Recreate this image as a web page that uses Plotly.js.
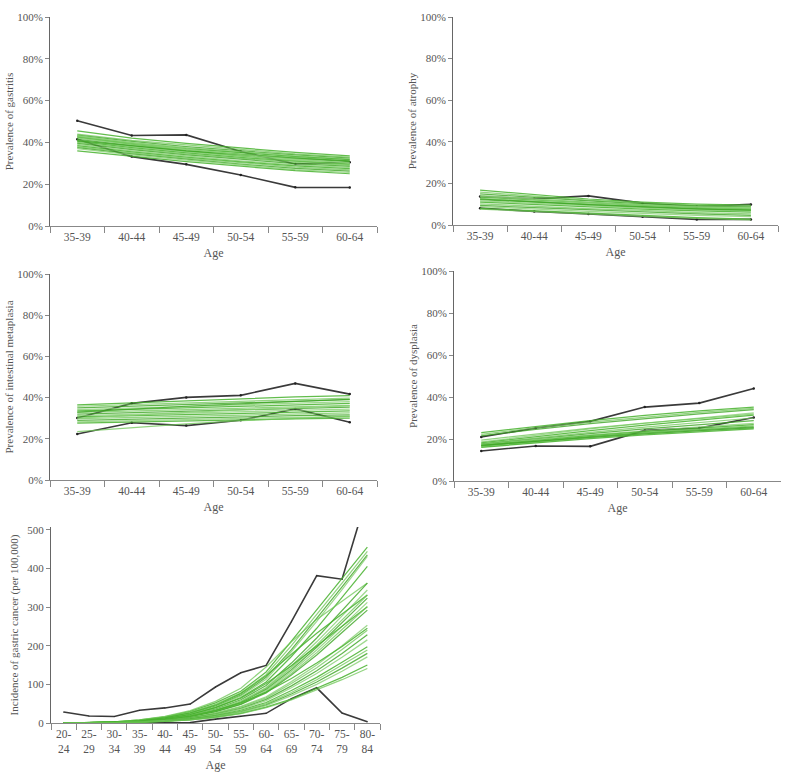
<!DOCTYPE html>
<html>
<head>
<meta charset="utf-8">
<script src="https://cdn.plot.ly/plotly-3.0.1.min.js"></script>
<style>html,body{margin:0;padding:0;background:#fff}#chart{width:800px;height:781px}</style>
</head>
<body>
<div id="chart"></div>
<script>
// ---------- DATA ----------
const agesPrev = ['35-39','40-44','45-49','50-54','55-59','60-64'];
const agesInc = ['20-24','25-29','30-34','35-39','40-44','45-49','50-54','55-59','60-64','65-69','70-74','75-79','80-84'];
const pctTicks = [0, 20, 40, 60, 80, 100];
const incTicks = [0, 100, 200, 300, 400, 500];

// Observed bounds (black lines)
const gastritisUpper = [50.4, 43.3, 43.6, 35.6, 29.7, 30.5];
const gastritisLower = [41.5, 33.2, 29.5, 24.4, 18.5, 18.4];
const atrophyUpper = [13.7, 12.6, 14.0, 10.5, 8.9, 9.9];
const atrophyLower = [8.1, 6.5, 5.3, 4.0, 2.7, 2.7];
const imUpper = [30.1, 37.2, 40.1, 41.1, 46.9, 41.7];
const imLower = [22.3, 27.8, 26.4, 29.0, 34.5, 28.0];
const dysplasiaUpper = [21.0, 25.2, 28.4, 35.2, 37.1, 44.0];
const dysplasiaLower = [14.3, 16.7, 16.5, 24.1, 25.2, 30.2];
const cancerUpper = [28.5, 18, 17, 33, 39, 49, 93, 130, 149, 262, 381, 372, 590];
const cancerLower = [0, 0, 0, 0, 0, 1, 10, 17, 25, 63, 91, 26, 3];

// Model runs (green lines)
const gastritisModel = [
  [45.5,42.0,39.5,37.2,35.2,33.5],
  [44.0,41.0,38.8,36.5,34.5,33.0],
  [43.5,40.5,38.0,36.0,34.0,32.5],
  [43.0,40.0,37.5,35.5,33.6,32.0],
  [42.5,39.5,37.0,35.0,33.2,31.8],
  [42.0,39.0,36.6,34.5,32.8,31.2],
  [41.5,38.5,36.0,34.0,32.2,30.8],
  [41.0,38.0,35.5,33.4,31.6,30.2],
  [40.5,37.5,35.0,32.8,31.0,29.6],
  [40.0,37.0,34.5,32.3,30.4,29.0],
  [39.5,36.5,34.0,31.8,29.9,28.5],
  [39.0,36.0,33.5,31.2,29.3,28.0],
  [38.5,35.5,33.0,30.7,28.8,27.4],
  [38.0,35.0,32.5,30.2,28.2,26.8],
  [37.5,34.5,32.0,29.6,27.6,26.2],
  [37.0,34.0,31.5,29.2,27.0,25.6],
  [36.0,33.3,30.8,28.6,26.5,25.0],
  [42.8,39.2,36.0,33.4,31.2,29.4],
  [40.8,38.3,36.0,34.2,32.5,31.2],
  [43.2,39.8,36.8,34.2,32.0,30.2]
];
const atrophyModel = [
  [16.8,14.5,12.5,11.0,10.0,9.5],
  [15.8,13.8,12.0,10.6,9.6,9.0],
  [15.0,13.2,11.6,10.2,9.2,8.6],
  [14.2,12.6,11.0,9.8,8.8,8.2],
  [13.4,12.0,10.6,9.4,8.4,7.8],
  [12.8,11.4,10.0,8.9,8.0,7.4],
  [12.2,10.9,9.6,8.5,7.6,7.0],
  [11.6,10.4,9.2,8.2,7.3,6.8],
  [11.0,9.8,8.6,7.6,6.8,6.2],
  [10.2,9.0,7.9,7.0,6.0,5.4],
  [9.4,8.3,7.2,6.2,5.3,4.6],
  [8.8,7.6,6.6,5.6,4.6,4.0],
  [8.0,6.8,5.6,4.5,3.5,2.8],
  [7.6,6.4,5.3,4.2,3.2,2.5],
  [12.5,11.0,9.8,8.8,7.8,7.2],
  [13.8,12.2,10.8,9.6,8.6,8.0]
];
const imModel = [
  [36.5,37.5,38.5,39.5,40.3,41.0],
  [35.8,36.6,37.4,38.2,39.0,39.8],
  [35.0,35.8,36.6,37.4,38.2,39.0],
  [34.2,35.0,35.8,36.6,37.4,38.0],
  [33.5,34.3,35.0,35.8,36.5,37.2],
  [32.8,33.5,34.2,34.9,35.6,36.2],
  [32.0,32.7,33.4,34.1,34.8,35.4],
  [31.3,32.0,32.6,33.2,33.8,34.4],
  [30.6,31.2,31.8,32.4,33.0,33.5],
  [29.8,30.4,31.0,31.6,32.1,32.6],
  [29.0,29.6,30.2,30.7,31.2,31.6],
  [28.2,28.8,29.4,29.9,30.4,30.8],
  [27.6,28.2,28.8,29.3,29.7,30.0],
  [23.5,25.5,27.2,28.8,30.0,31.0],
  [33.0,34.5,35.8,37.0,38.2,39.2],
  [30.0,31.5,32.8,34.0,35.0,36.0]
];
const dysplasiaModel = [
  [23.0,26.0,28.8,31.2,33.4,35.2],
  [22.2,25.3,28.0,30.5,32.7,34.6],
  [21.5,24.6,27.3,29.8,32.0,34.0],
  [18.6,21.8,24.8,27.5,30.0,32.4],
  [18.2,21.2,24.0,26.6,29.0,31.4],
  [17.8,20.6,23.2,25.6,27.8,30.0],
  [17.5,20.2,22.6,24.8,26.8,28.8],
  [17.2,19.8,22.0,24.0,25.8,27.4],
  [17.0,19.4,21.6,23.5,25.2,26.8],
  [16.8,19.2,21.3,23.2,24.8,26.2],
  [16.5,18.9,21.0,22.8,24.4,25.8],
  [16.2,18.5,20.6,22.4,24.0,25.2],
  [16.0,18.2,20.2,22.0,23.5,24.8],
  [19.5,22.5,25.2,27.6,29.8,31.8],
  [17.0,19.0,20.8,22.5,24.0,25.4]
];
const cancerModel = [
  [0,1,3,8,16,30,52,82,132,212,292,375,455],
  [0,1,3,7,15,28,48,78,125,200,280,362,444],
  [0,1,2,6,13,25,44,72,118,190,270,352,435],
  [0,1,2,6,12,24,42,70,113,185,263,345,431],
  [0,1,2,5,11,22,40,66,106,172,245,325,405],
  [0,1,3,8,17,32,56,90,145,210,268,315,362],
  [0,0,2,5,10,20,36,60,97,155,220,290,362],
  [0,0,2,5,10,19,34,57,92,148,210,277,344],
  [0,1,2,6,13,26,46,76,122,178,232,282,331],
  [0,0,2,4,9,18,33,55,90,143,202,267,331],
  [0,0,2,4,9,18,32,53,87,138,196,259,323],
  [0,0,1,4,8,17,31,51,84,133,189,250,312],
  [0,1,2,5,11,22,40,64,102,148,200,250,301],
  [0,0,1,4,8,16,30,49,81,128,182,242,301],
  [0,0,1,4,8,16,29,48,78,124,176,234,292],
  [0,0,1,3,7,14,26,43,68,107,150,200,253],
  [0,1,2,4,9,18,32,52,80,115,155,198,245],
  [0,0,1,3,7,14,25,41,65,102,143,190,240],
  [0,0,1,3,6,13,23,38,61,96,135,180,228],
  [0,0,1,3,6,12,22,36,58,91,128,170,215],
  [0,0,1,3,6,11,20,33,53,84,118,157,197],
  [0,0,1,2,5,10,19,31,50,79,112,150,189],
  [0,0,1,2,5,10,18,29,47,75,106,142,180],
  [0,0,1,2,5,9,17,28,45,71,100,134,171],
  [0,0,1,2,4,8,15,25,41,62,89,118,150],
  [0,0,1,2,4,8,14,24,40,60,85,112,141]
];

// ---------- STYLE / LAYOUT ----------
const FONT = "'Liberation Serif', 'Times New Roman', serif";
const TXT = '#555555';
const BLACK = '#3a3a3a';
const GREENS = ['rgba(70,178,45,0.85)','rgba(110,198,85,0.75)','rgba(60,165,35,0.80)','rgba(135,208,115,0.80)'];

const traces = [];
function addPanel(idx, cats, upper, lower, model, markerSize) {
  const xa = idx === 1 ? 'x' : 'x' + idx;
  const ya = idx === 1 ? 'y' : 'y' + idx;
  [upper, lower].forEach(v => traces.push({
    type: 'scatter', mode: 'lines+markers', x: cats, y: v, xaxis: xa, yaxis: ya,
    line: {color: BLACK, width: 1.6}, marker: {size: markerSize, color: '#222'},
    showlegend: false, hoverinfo: 'skip'
  }));
  model.forEach((v, i) => traces.push({
    type: 'scatter', mode: 'lines', x: cats, y: v, xaxis: xa, yaxis: ya,
    line: {color: GREENS[i % GREENS.length], width: 1.25},
    showlegend: false, hoverinfo: 'skip'
  }));
}
const incCats = agesInc.map(a => a.replace('-', '-<br>'));
addPanel(1, agesPrev, gastritisUpper, gastritisLower, gastritisModel, 2.5);
addPanel(2, agesPrev, atrophyUpper, atrophyLower, atrophyModel, 2.5);
addPanel(3, agesPrev, imUpper, imLower, imModel, 2.5);
addPanel(4, agesPrev, dysplasiaUpper, dysplasiaLower, dysplasiaModel, 2.5);
addPanel(5, incCats, cancerUpper, cancerLower, cancerModel, 1);

const W = 800, H = 781;
function xdom(l, r) { return [l / W, r / W]; }
function ydom(top, bottom) { return [1 - bottom / H, 1 - top / H]; }

function xAxis(dom, anchor, n) {
  return {
    domain: dom, anchor: anchor, type: 'category', range: [-0.5, n - 0.5],
    tickson: 'boundaries', ticks: 'outside', ticklen: 6, tickcolor: '#888', tickwidth: 1,
    showline: true, linecolor: '#888', linewidth: 1, showgrid: false, zeroline: false,
    tickfont: {family: FONT, size: 11.5, color: TXT},
    title: {text: 'Age', font: {family: FONT, size: 12, color: TXT}, standoff: 6},
    fixedrange: true
  };
}
function yAxis(dom, anchor, title, range, tickvals, suffix, standoff) {
  return {
    domain: dom, anchor: anchor, range: range, tickmode: 'array', tickvals: tickvals,
    ticktext: tickvals.map(v => v + suffix),
    ticks: 'outside', ticklen: 4, tickcolor: '#888', tickwidth: 1,
    showline: true, linecolor: '#666', linewidth: 1, showgrid: false, zeroline: false,
    tickfont: {family: FONT, size: 11, color: TXT},
    title: {text: title, font: {family: FONT, size: 11, color: TXT}, standoff: standoff},
    fixedrange: true
  };
}
const layout = {
  width: W, height: H, margin: {l: 0, r: 0, t: 0, b: 0},
  paper_bgcolor: '#fff', plot_bgcolor: '#fff', showlegend: false,
  xaxis: xAxis(xdom(50, 377), 'y', 6),
  yaxis: yAxis(ydom(17, 226), 'x', 'Prevalence of gastritis', [0, 100], pctTicks, '%', 1),
  xaxis2: xAxis(xdom(453, 778), 'y2', 6),
  yaxis2: yAxis(ydom(17, 225), 'x2', 'Prevalence of atrophy', [0, 100], pctTicks, '%', 1),
  xaxis3: xAxis(xdom(50, 377), 'y3', 6),
  yaxis3: yAxis(ydom(274, 480), 'x3', 'Prevalence of intestinal metaplasia', [0, 100], pctTicks, '%', 1),
  xaxis4: xAxis(xdom(454, 781), 'y4', 6),
  yaxis4: yAxis(ydom(271, 481), 'x4', 'Prevalence of dysplasia', [0, 100], pctTicks, '%', 1),
  xaxis5: xAxis(xdom(51, 380), 'y5', 13),
  yaxis5: yAxis(ydom(527, 723), 'x5', 'Incidence of gastric cancer (per 100,000)', [0, 507], incTicks, '', 6)
};
Plotly.newPlot('chart', traces, layout, {displayModeBar: false, staticPlot: true});
</script>
</body>
</html>
